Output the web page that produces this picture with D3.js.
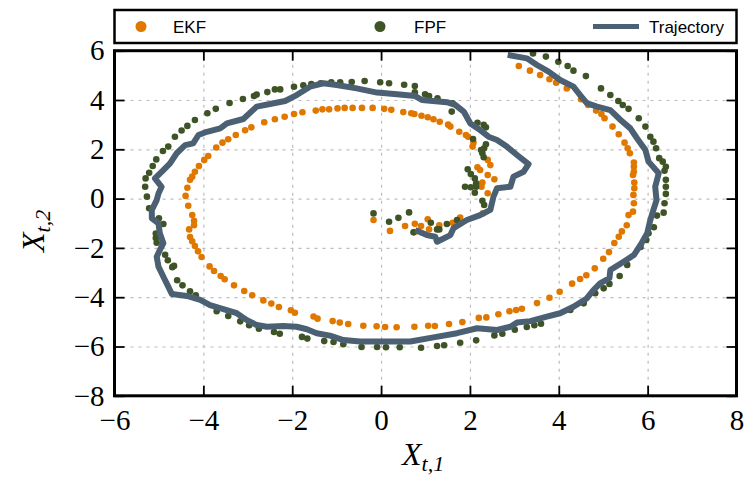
<!DOCTYPE html>

<head>
<meta charset="utf-8">
<title>EKF vs FPF</title>
<script type="text/javascript" src="https://d3js.org/d3.v7.min.js"></script>
<style>
body { margin: 0; background: #fff; }
.grid line { stroke: #bdbdbd; stroke-width: 1.2; stroke-dasharray: 3,5; }
.grid path { display: none; }
.axis path { display: none; }
.axis line { stroke: #000; stroke-width: 1.8; }
.axis text { font-family: "Liberation Serif", serif; font-size: 29px; fill: #000; }
.legend text { font-family: "Liberation Sans", sans-serif; font-size: 17px; fill: #000; }
</style>
</head>

<body>
<div id="container"></div>
<script>
//-----------------------------DATA-----------------------------//
const seriesNames = ["EKF", "FPF", "Trajectory"];
const seriesColors = ["#e07800", "#3f5426", "#4c6073"];
const xTicks = [-6, -4, -2, 0, 2, 4, 6, 8];
const yTicks = [-8, -6, -4, -2, 0, 2, 4, 6];

// EKF estimates
const ekf = [
  [-1.47,3.57],[-1.32,3.62],[-1.77,3.50],[-1.96,3.43],[-2.17,3.32],[-2.39,3.22],[-2.63,3.10],[-2.92,2.89],
  [-3.06,2.77],[-3.27,2.58],[-3.44,2.41],[-3.57,2.27],[-3.71,2.07],[-3.89,1.73],[-3.98,1.57],[-4.10,1.32],
  [-4.19,1.09],[-4.25,0.89],[-4.30,0.76],[-4.36,0.44],[-4.40,0.11],[-4.34,-0.29],[-4.25,-0.67],[-4.21,-0.90],
  [-4.21,-1.08],[-4.32,-1.25],[-4.30,-1.56],[-4.25,-1.73],[-4.19,-1.92],[-4.12,-2.14],[-4.04,-2.37],[-3.86,-2.75],
  [-3.76,-2.94],[-3.61,-3.14],[-3.52,-3.27],[-3.31,-3.52],[-3.08,-3.75],[-2.90,-3.92],[-2.65,-4.13],[-2.47,-4.26],
  [-2.30,-4.40],[-2.03,-4.53],[-1.94,-4.63],[-1.52,-4.78],[-1.43,-4.87],[-1.09,-4.97],[-0.93,-5.03],[-0.74,-5.09],
  [-0.40,-5.16],[-0.10,-5.18],[0.09,-5.21],[0.35,-5.22],[0.75,-5.20],[1.06,-5.16],[1.21,-5.17],[1.53,-5.09],
  [1.83,-5.01],[2.20,-4.84],[2.37,-4.82],[2.64,-4.69],[2.89,-4.57],[3.04,-4.52],[3.17,-4.47],[3.51,-4.24],
  [3.79,-4.02],[4.02,-3.78],[4.30,-3.45],[4.48,-3.26],[4.62,-3.11],[4.81,-2.83],[5.00,-2.44],[5.13,-2.17],
  [5.25,-1.80],[5.35,-1.55],[5.42,-1.33],[5.53,-1.08],[5.57,-0.67],[5.67,-0.53],[5.69,-0.19],[5.68,0.15],
  [5.70,0.42],[5.70,0.65],[5.67,0.96],[5.69,1.09],[5.69,1.29],[5.69,1.46],[5.60,1.84],[5.55,2.04],
  [5.48,2.27],[5.35,2.61],[5.21,2.92],[5.03,3.26],[4.96,3.43],[4.84,3.57],[4.66,3.80],[4.50,4.03],
  [4.18,4.47],[3.94,4.70],[3.79,4.84],[3.58,5.01],[3.35,5.19],[3.10,5.38],
  [-1.17,3.62],[-0.98,3.66],[-0.82,3.68],[-0.64,3.68],[-0.43,3.68],[-0.19,3.68],[0.07,3.64],[0.23,3.60],
  [0.50,3.51],[0.68,3.46],[0.75,3.43],[0.91,3.36],[1.05,3.30],[1.18,3.22],[1.32,3.12],[1.51,3.00],
  [1.56,2.92],[1.76,2.71],[1.91,2.58],[1.96,2.51],[2.08,2.27],[2.06,2.11],[2.40,1.57],[2.46,1.36],
  [2.17,1.27],[2.23,1.16],[2.40,0.96],[2.55,0.78],[2.28,0.65],[2.26,0.48],[2.40,0.22],[2.29,-0.60],
  [-0.17,-0.87],[0.20,-1.31],[0.54,-1.11],[0.75,-1.36],[0.76,-1.02],[0.90,-1.11],[1.08,-1.25],[1.31,-1.08],
  [1.61,-0.98],[1.78,-0.77],[1.05,-0.84]
];

// FPF estimates
const fpf = [
  [-1.96,4.54],[-1.75,4.60],[-1.57,4.65],[-1.36,4.68],[-2.27,4.43],[-2.39,4.43],[-2.56,4.32],[-2.80,4.22],
  [-2.86,4.16],[-3.11,4.04],[-3.41,3.88],[-3.72,3.64],[-3.91,3.46],[-4.19,3.19],[-4.36,2.95],[-4.49,2.76],
  [-4.64,2.51],[-4.79,2.11],[-4.91,1.93],[-5.06,1.59],[-5.14,1.32],[-5.22,1.05],[-5.30,0.82],[-5.31,0.48],
  [-5.27,0.08],[-5.22,-0.39],[-5.00,-0.80],[-4.90,-1.03],[-5.07,-1.42],[-5.07,-1.60],[-5.05,-1.79],[-4.86,-2.28],
  [-4.80,-2.50],[-4.70,-2.78],[-4.66,-2.73],[-4.59,-3.31],[-4.47,-3.52],[-4.30,-3.76],[-4.17,-3.92],[-3.70,-4.57],
  [-3.44,-4.76],[-3.17,-4.98],[-2.97,-5.14],[-2.75,-5.28],[-2.41,-5.41],[-2.28,-5.48],[-1.78,-5.61],[-1.66,-5.68],
  [-1.28,-5.78],[-1.07,-5.82],[-0.85,-5.91],[-0.44,-6.02],[-0.09,-6.02],[0.11,-6.03],[0.42,-6.03],[0.90,-6.05],
  [1.26,-5.98],[1.42,-5.95],[1.78,-5.85],[2.14,-5.75],[2.55,-5.55],[2.73,-5.48],[3.01,-5.32],[3.28,-5.21],
  [3.45,-5.14],[3.60,-5.08],[4.26,-4.52],[4.56,-4.25],[4.82,-3.84],[5.01,-3.64],[5.14,-3.46],[5.37,-3.14],
  [5.54,-2.69],[5.84,-1.96],[5.97,-1.68],[6.02,-1.41],[6.14,-1.16],[6.21,-0.69],[6.36,-0.57],[6.38,-0.19],
  [6.41,0.19],[6.41,0.48],[6.41,0.76],[6.38,1.13],[6.41,1.29],[6.34,1.50],[6.26,1.64],[6.19,2.04],
  [6.13,2.31],[6.06,2.51],[5.95,2.92],[5.80,3.26],[5.57,3.64],[5.44,3.80],[5.34,3.96],[5.16,4.20],
  [4.95,4.47],[4.61,4.97],[4.33,5.19],[4.20,5.38],[3.99,5.55],[3.71,5.76],[3.42,5.89],
  [-1.12,4.72],[-0.92,4.72],[-0.66,4.73],[-0.37,4.77],[-0.02,4.72],[0.18,4.68],[0.52,4.62],[0.76,4.57],
  [0.76,4.31],[0.99,4.23],[1.08,4.16],[1.27,4.07],[1.61,3.87],[1.59,3.53],[2.17,3.08],[2.31,2.99],
  [2.36,2.89],[2.07,2.42],[2.36,2.20],[2.32,2.04],[2.25,1.97],[2.28,1.84],[2.31,1.68],[1.95,1.19],
  [2.02,1.00],[2.11,0.82],[2.14,0.62],[1.89,0.48],[2.02,0.46],[2.14,0.48],[2.11,0.24],[2.28,-0.09],
  [2.32,-0.26],
  [-0.17,-0.60],[0.18,-0.94],[0.39,-0.78],[0.63,-0.56],[1.12,-0.98],[1.48,-1.03],[1.71,-0.87],[0.73,-1.37],
  [1.26,-1.25],[1.31,-1.25]
];

// true trajectory
const trajectory = [
  [2.85,5.83],[3.28,5.69],[3.51,5.42],[3.77,5.15],[4.03,4.81],[4.33,4.54],[4.48,4.20],[4.63,3.87],
  [4.86,3.73],[5.16,3.59],[5.39,3.19],[5.61,2.85],[5.76,2.45],[5.95,1.97],[6.02,1.50],[6.25,1.03],
  [6.17,0.48],[6.20,-0.06],[6.13,-0.46],[6.06,-0.87],[5.99,-1.41],[5.84,-1.88],[5.69,-2.29],[5.46,-2.56],
  [5.16,-2.90],[5.14,-3.23],[4.93,-3.44],[4.78,-3.71],[4.63,-4.05],[4.33,-4.39],[4.03,-4.65],[3.73,-4.79],
  [3.36,-4.97],[3.06,-5.03],[2.91,-5.20],[2.61,-5.33],[2.16,-5.26],[1.71,-5.46],[1.18,-5.63],[0.66,-5.80],
  [0.05,-5.80],[-0.47,-5.80],[-0.85,-5.74],[-1.15,-5.56],[-1.45,-5.46],[-1.67,-5.30],[-1.90,-5.20],[-2.20,-5.17],
  [-2.57,-5.20],[-2.80,-5.13],[-3.02,-4.93],[-3.25,-4.65],[-3.55,-4.48],[-3.85,-4.32],[-4.07,-4.11],[-4.37,-3.95],
  [-4.71,-3.87],[-4.79,-3.57],[-4.90,-3.17],[-5.01,-2.76],[-5.05,-2.36],[-4.98,-2.09],[-4.90,-1.81],[-4.98,-1.41],
  [-5.01,-1.00],[-5.16,-0.80],[-5.16,-0.46],[-5.05,-0.06],[-5.01,0.21],[-4.94,0.48],[-5.09,0.82],[-4.90,1.16],
  [-4.75,1.43],[-4.60,1.84],[-4.41,2.17],[-4.23,2.24],[-4.11,2.58],[-3.92,2.71],[-3.62,2.85],[-3.47,3.05],
  [-3.10,3.23],[-2.80,3.73],[-2.50,3.84],[-2.16,3.96],[-1.90,4.20],[-1.60,4.54],[-1.30,4.68],[-1.00,4.61],
  [-0.55,4.47],[-0.09,4.30],[0.36,4.23],[0.77,4.16],[0.92,4.00],[1.48,3.91],[1.67,3.80],[1.86,3.53],
  [2.01,3.05],[2.23,2.78],[2.42,2.51],[2.61,2.38],[2.83,2.11],[3.06,1.77],[3.32,1.40],[3.21,1.09],
  [2.98,0.89],[2.91,0.48],[2.61,0.42],[2.53,0.08],[2.46,-0.46],[2.23,-0.67],[1.93,-0.87],[1.63,-1.20],
  [1.56,-1.48],[1.26,-1.75],[1.22,-1.55],[1.03,-1.48],[0.77,-1.27]
];

//----------------------------SVG-------------------------------//
const width = 746;
const height = 478;
const plotLeft = 114.5, plotRight = 736.5, plotTop = 50.7, plotBottom = 395.8;

const svg = d3.select("div#container").append("svg")
    .attr("width", width)
    .attr("height", height);

//----------------------------SCALES----------------------------//
const x = d3.scaleLinear().domain([-6, 8]).range([plotLeft, plotRight]);
const y = d3.scaleLinear().domain([-8, 6]).range([plotBottom, plotTop]);

//-----------------------------GRID-----------------------------//
svg.append("g")
    .attr("class", "grid")
    .attr("transform", "translate(0," + plotBottom + ")")
    .call(d3.axisBottom(x).tickValues(xTicks.slice(1, -1))
        .tickSize(-(plotBottom - plotTop)).tickFormat(""));

svg.append("g")
    .attr("class", "grid")
    .attr("transform", "translate(" + plotLeft + ",0)")
    .call(d3.axisLeft(y).tickValues(yTicks.slice(1, -1))
        .tickSize(-(plotRight - plotLeft)).tickFormat(""));

//----------------------------POINTS----------------------------//
svg.append("g").selectAll("circle")
    .data(ekf)
    .enter().append("circle")
    .attr("cx", d => x(d[0]))
    .attr("cy", d => y(d[1]))
    .attr("r", 3.3)
    .attr("fill", seriesColors[0]);

svg.append("g").selectAll("circle")
    .data(fpf)
    .enter().append("circle")
    .attr("cx", d => x(d[0]))
    .attr("cy", d => y(d[1]))
    .attr("r", 3.3)
    .attr("fill", seriesColors[1]);

//-----------------------------LINE-----------------------------//
const line = d3.line()
    .x(d => x(d[0]))
    .y(d => y(d[1]));

svg.append("path")
    .datum(trajectory)
    .attr("d", line)
    .attr("fill", "none")
    .attr("stroke", seriesColors[2])
    .attr("stroke-width", 6)
    .attr("stroke-linejoin", "round");

//-----------------------------AXES-----------------------------//
svg.append("g")
    .attr("class", "axis")
    .attr("transform", "translate(0," + plotBottom + ")")
    .call(d3.axisBottom(x).tickValues(xTicks).tickSize(-10).tickPadding(14));

svg.append("g")
    .attr("class", "axis")
    .attr("transform", "translate(0," + plotTop + ")")
    .call(d3.axisTop(x).tickValues(xTicks).tickSize(-10).tickFormat(""));

svg.append("g")
    .attr("class", "axis")
    .attr("transform", "translate(" + plotLeft + ",0)")
    .call(d3.axisLeft(y).tickValues(yTicks).tickSize(-10).tickPadding(10));

svg.append("g")
    .attr("class", "axis")
    .attr("transform", "translate(" + plotRight + ",0)")
    .call(d3.axisRight(y).tickValues(yTicks).tickSize(-10).tickFormat(""));

svg.append("rect")
    .attr("x", plotLeft)
    .attr("y", plotTop)
    .attr("width", plotRight - plotLeft)
    .attr("height", plotBottom - plotTop)
    .attr("fill", "none")
    .attr("stroke", "#000")
    .attr("stroke-width", 3);

//----------------------------LABELS----------------------------//
const xLabel = svg.append("text")
    .attr("x", 402)
    .attr("y", 465)
    .style("font-family", "Liberation Serif, serif")
    .style("font-style", "italic")
    .style("font-size", "32px");
xLabel.append("tspan").text("X");
xLabel.append("tspan").attr("dy", 6).style("font-size", "22px").text("t,1");

const yLabel = svg.append("text")
    .attr("transform", "translate(44,252) rotate(-90)")
    .style("font-family", "Liberation Serif, serif")
    .style("font-style", "italic")
    .style("font-size", "32px");
yLabel.append("tspan").text("X");
yLabel.append("tspan").attr("dy", 6).style("font-size", "22px").text("t,2");

//----------------------------LEGEND----------------------------//
const legend = svg.append("g").attr("class", "legend");

legend.append("rect")
    .attr("x", plotLeft)
    .attr("y", 10)
    .attr("width", plotRight - plotLeft)
    .attr("height", 33)
    .attr("fill", "#fff")
    .attr("stroke", "#000")
    .attr("stroke-width", 2.5);

const legendX = [141, 380, 593];
legend.append("circle").attr("cx", legendX[0]).attr("cy", 26.5).attr("r", 5.5).attr("fill", seriesColors[0]);
legend.append("circle").attr("cx", legendX[1]).attr("cy", 26.5).attr("r", 5.5).attr("fill", seriesColors[1]);
legend.append("line")
    .attr("x1", legendX[2]).attr("x2", legendX[2] + 46)
    .attr("y1", 26.5).attr("y2", 26.5)
    .attr("stroke", seriesColors[2]).attr("stroke-width", 5);

legend.selectAll("text.lbl")
    .data(seriesNames)
    .enter().append("text")
    .attr("class", "lbl")
    .attr("x", (d, i) => [173, 414, 649][i])
    .attr("y", 33)
    .text(d => d);
</script>
</body>
